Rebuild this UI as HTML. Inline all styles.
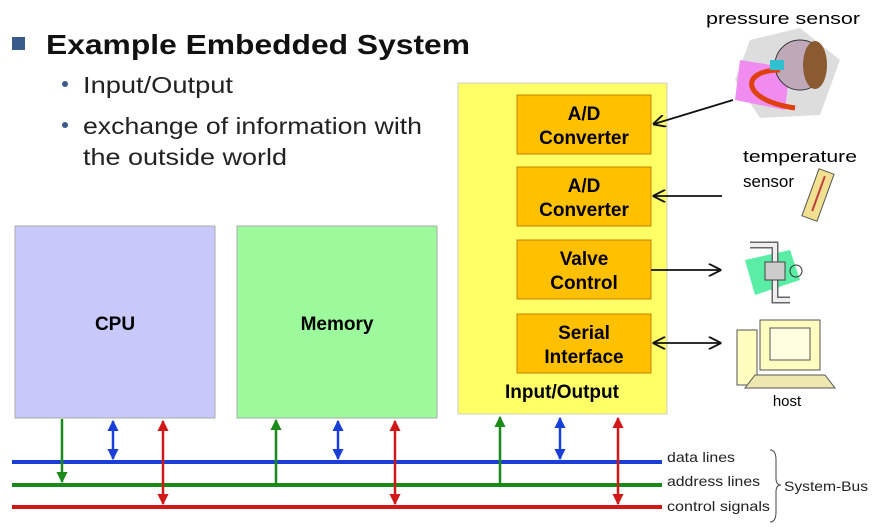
<!DOCTYPE html>
<html><head><meta charset="utf-8"><style>
html,body{margin:0;padding:0;background:#fff;}
svg{display:block;font-family:"Liberation Sans",Arial,sans-serif;}
</style></head><body>
<svg width="886" height="528" viewBox="0 0 886 528" xmlns="http://www.w3.org/2000/svg">
<defs>
<marker id="ag" viewBox="0 0 10 10" refX="9" refY="5" markerWidth="4.5" markerHeight="4.5" orient="auto-start-reverse"><path d="M0,0L10,5L0,10z" fill="#1a8a1a"/></marker>
<marker id="ab" viewBox="0 0 10 10" refX="9" refY="5" markerWidth="4.5" markerHeight="4.5" orient="auto-start-reverse"><path d="M0,0L10,5L0,10z" fill="#1a3fd8"/></marker>
<marker id="ar" viewBox="0 0 10 10" refX="9" refY="5" markerWidth="4.5" markerHeight="4.5" orient="auto-start-reverse"><path d="M0,0L10,5L0,10z" fill="#d01818"/></marker>
<marker id="ak" viewBox="0 0 10 10" refX="9" refY="5" markerWidth="7" markerHeight="7" orient="auto-start-reverse"><path d="M0,0L10,5L0,10" fill="none" stroke="#111" stroke-width="1.5"/></marker>
</defs>
<rect x="12" y="37" width="13" height="13" fill="#3a5a8c"/>
<text x="46" y="54" font-size="28" font-weight="bold" fill="#111" textLength="424" lengthAdjust="spacingAndGlyphs">Example Embedded System</text>
<circle cx="65" cy="84" r="3" fill="#3a5a8c"/>
<circle cx="65" cy="125" r="3" fill="#3a5a8c"/>
<text x="83" y="93" font-size="23" fill="#222" textLength="150" lengthAdjust="spacingAndGlyphs">Input/Output</text>
<text x="83" y="134" font-size="23" fill="#222" textLength="339" lengthAdjust="spacingAndGlyphs">exchange of information with</text>
<text x="83" y="165" font-size="23" fill="#222" textLength="204" lengthAdjust="spacingAndGlyphs">the outside world</text>

<rect x="15" y="226" width="200" height="192" fill="#c8c8fa" stroke="#aaa"/>
<text x="115" y="330" font-size="19" font-weight="bold" text-anchor="middle">CPU</text>
<rect x="237" y="226" width="200" height="192" fill="#9cf99c" stroke="#aaa"/>
<text x="337" y="330" font-size="19" font-weight="bold" text-anchor="middle">Memory</text>
<rect x="458" y="83" width="209" height="331" fill="#ffff66" stroke="#ccc"/>
<text x="562" y="398" font-size="19" font-weight="bold" text-anchor="middle">Input/Output</text>
<g font-size="19" font-weight="bold" text-anchor="middle">
<rect x="517" y="95" width="134" height="59" fill="#ffc000" stroke="#c08000"/>
<text x="584" y="120">A/D</text><text x="584" y="144">Converter</text>
<rect x="517" y="167" width="134" height="59" fill="#ffc000" stroke="#c08000"/>
<text x="584" y="192">A/D</text><text x="584" y="216">Converter</text>
<rect x="517" y="240" width="134" height="59" fill="#ffc000" stroke="#c08000"/>
<text x="584" y="265">Valve</text><text x="584" y="289">Control</text>
<rect x="517" y="314" width="134" height="59" fill="#ffc000" stroke="#c08000"/>
<text x="584" y="339">Serial</text><text x="584" y="363">Interface</text>
</g>
<g stroke="#111" stroke-width="1.8">
<line x1="733" y1="100" x2="654" y2="124" marker-end="url(#ak)"/>
<line x1="722" y1="196" x2="654" y2="196" marker-end="url(#ak)"/>
<line x1="651" y1="270" x2="720" y2="270" marker-end="url(#ak)"/>
<line x1="654" y1="343" x2="720" y2="343" marker-end="url(#ak)" marker-start="url(#ak)"/>
</g>
<text x="706" y="24" font-size="17" textLength="154" lengthAdjust="spacingAndGlyphs">pressure sensor</text>
<text x="743" y="162" font-size="17" textLength="114" lengthAdjust="spacingAndGlyphs">temperature</text>
<text x="743" y="187" font-size="17">sensor</text>
<text x="787" y="406" font-size="15" text-anchor="middle">host</text>
<polygon points="750,40 800,28 840,60 820,115 760,118 735,80" fill="#ddd"/>
<polygon points="740,60 790,68 785,110 735,100" fill="#f08cf0"/>
<circle cx="800" cy="65" r="25" fill="#bfa9b8" stroke="#333"/>
<ellipse cx="815" cy="65" rx="12" ry="24" fill="#8a5a30"/>
<path d="M780,70 C740,70 740,100 795,108" stroke="#e04010" stroke-width="5" fill="none"/>
<rect x="770" y="60" width="14" height="10" fill="#30c0d0"/>
<g transform="rotate(20 818 195)"><rect x="810" y="170" width="16" height="50" fill="#f0e090" stroke="#555"/><line x1="818" y1="175" x2="818" y2="212" stroke="#c04040" stroke-width="2"/></g>
<polygon points="745,260 790,250 800,280 755,295" fill="#30e890" opacity="0.8"/>
<path d="M750,245 H775 V300 H790" stroke="#666" stroke-width="7" fill="none"/>
<path d="M750,245 H775 V300 H790" stroke="#eee" stroke-width="4" fill="none"/>
<rect x="765" y="262" width="20" height="18" fill="#ccc" stroke="#444"/>
<circle cx="796" cy="271" r="6" fill="none" stroke="#333"/>
<rect x="737" y="330" width="20" height="55" fill="#fffcc0" stroke="#555"/>
<rect x="760" y="320" width="60" height="50" fill="#fffcc0" stroke="#555"/>
<rect x="770" y="328" width="40" height="32" fill="#fffde0" stroke="#555"/>
<polygon points="755,375 825,375 835,388 745,388" fill="#eee8b0" stroke="#555"/>
<line x1="12" y1="462" x2="662" y2="462" stroke="#1a3fd8" stroke-width="4"/>
<line x1="12" y1="485" x2="662" y2="485" stroke="#1a8a1a" stroke-width="4"/>
<line x1="12" y1="507" x2="662" y2="507" stroke="#d01818" stroke-width="4"/>
<g stroke-width="2.5">
<line x1="62" y1="419" x2="62" y2="482" stroke="#1a8a1a" marker-end="url(#ag)"/>
<line x1="113" y1="421" x2="113" y2="459" stroke="#1a3fd8" marker-end="url(#ab)" marker-start="url(#ab)"/>
<line x1="163" y1="421" x2="163" y2="504" stroke="#d01818" marker-end="url(#ar)" marker-start="url(#ar)"/>
<line x1="276" y1="484" x2="276" y2="420" stroke="#1a8a1a" marker-end="url(#ag)"/>
<line x1="338" y1="421" x2="338" y2="459" stroke="#1a3fd8" marker-end="url(#ab)" marker-start="url(#ab)"/>
<line x1="395" y1="421" x2="395" y2="504" stroke="#d01818" marker-end="url(#ar)" marker-start="url(#ar)"/>
<line x1="500" y1="484" x2="500" y2="417" stroke="#1a8a1a" marker-end="url(#ag)"/>
<line x1="560" y1="418" x2="560" y2="459" stroke="#1a3fd8" marker-end="url(#ab)" marker-start="url(#ab)"/>
<line x1="618" y1="418" x2="618" y2="504" stroke="#d01818" marker-end="url(#ar)" marker-start="url(#ar)"/>
</g>
<g font-size="14" fill="#222">
<text x="667" y="462" textLength="68" lengthAdjust="spacingAndGlyphs">data lines</text>
<text x="667" y="486" textLength="93" lengthAdjust="spacingAndGlyphs">address lines</text>
<text x="667" y="511" textLength="103" lengthAdjust="spacingAndGlyphs">control signals</text>
<text x="784" y="491" textLength="84" lengthAdjust="spacingAndGlyphs">System-Bus</text>
</g>
<path d="M770,450 Q776,450 776,460 L776,478 Q776,485 781,485 Q776,485 776,492 L776,512 Q776,522 770,522" fill="none" stroke="#444" stroke-width="1"/>
</svg>
</body></html>
